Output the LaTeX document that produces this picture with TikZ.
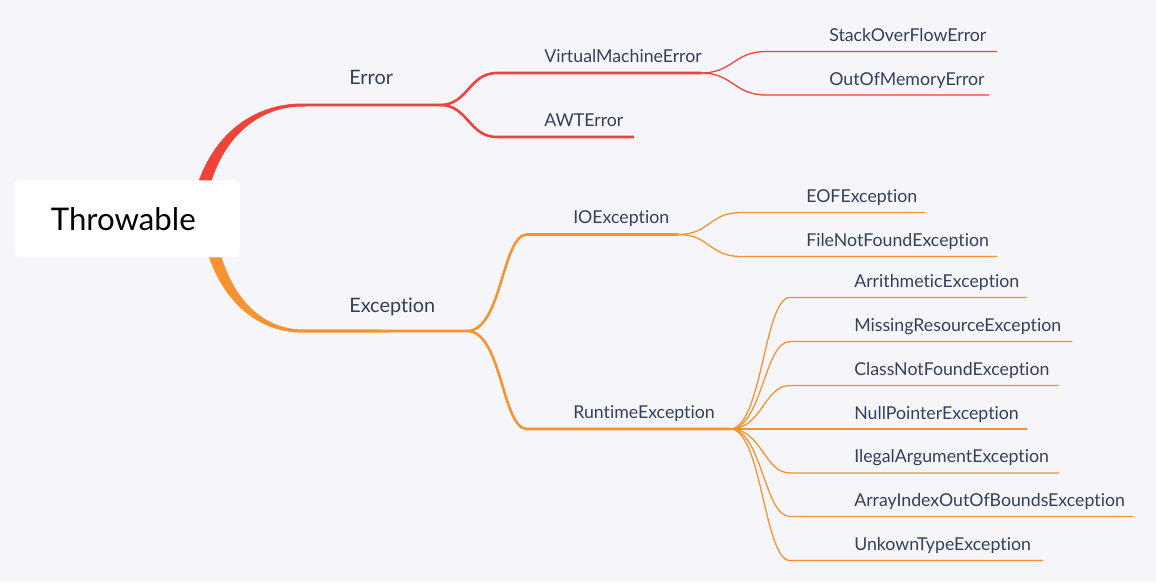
\documentclass[tikz,border=0pt]{standalone}
\usepackage{fontspec}
\setmainfont{Lato}[Ligatures={NoCommon,NoRare,NoContextual}]
\definecolor{bg}{HTML}{F5F5FA}
\definecolor{errc}{HTML}{EF4238}
\definecolor{excc}{HTML}{F7932E}
\definecolor{txt}{HTML}{34405A}
\begin{document}
\begin{tikzpicture}[x=0.75pt,y=-0.75pt,
  lbl/.style={anchor=base west,inner sep=0pt,text=txt,font=\fontsize{13.3}{15}\selectfont},
  lblbig/.style={anchor=base west,inner sep=0pt,text=txt,font=\fontsize{14.9}{17}\selectfont},
  errmid/.style={draw=errc,line width=1.9pt},
  errthin/.style={draw=errc,line width=0.95pt},
  excmid/.style={draw=excc,line width=1.9pt},
  excthin/.style={draw=excc,line width=0.95pt},
  rootbox/.style={fill=white,rounded corners=4.5pt,draw=none}]
\useasboundingbox (0,0) rectangle (1156,582);
\fill[bg] (0,0) rectangle (1156,582);
% coordinates
\coordinate (errA) at (440,105);
\coordinate (excA) at (467,331);
\coordinate (vmS) at (497,73);  \coordinate (vmE) at (701,73);
\coordinate (awS) at (497,137); \coordinate (awE) at (634,137);
\coordinate (soS) at (766,51.5); \coordinate (soE) at (997,51.5);
\coordinate (omS) at (766,95);   \coordinate (omE) at (989,95);
\coordinate (ioS) at (527,234.5); \coordinate (ioE) at (678,234.5);
\coordinate (eoS) at (741,212.5); \coordinate (eoE) at (925,212.5);
\coordinate (fnS) at (741,256.5); \coordinate (fnE) at (997,256.5);
\coordinate (rtS) at (527,429); \coordinate (rtE) at (730,429);
\coordinate (arS) at (790,297.5); \coordinate (arE) at (1027,297.5);
\coordinate (mrS) at (790,341.5); \coordinate (mrE) at (1072,341.5);
\coordinate (cnS) at (790,385.5); \coordinate (cnE) at (1059,385.5);
\coordinate (npS) at (790,429);   \coordinate (npE) at (1027,429);
\coordinate (iaS) at (790,473);   \coordinate (iaE) at (1059,473);
\coordinate (aiS) at (790,516.5); \coordinate (aiE) at (1133,516.5);
\coordinate (utS) at (790,560.5); \coordinate (utE) at (1043,560.5);
% root branches (tapered)
\fill[errc] (190,218) .. controls (200,140) and (250,103.5) .. (302,103.5) -- (440,103.6)
  -- (440,106.4) -- (302,106.5) .. controls (258,106.5) and (212,140) .. (204,218) -- cycle;
\fill[excc] (200,218) .. controls (210,296) and (255,332.6) .. (302,332.6) -- (467,332.4)
  -- (467,329.6) -- (302,329.4) .. controls (262,329.4) and (222,296) .. (214,218) -- cycle;
% Error subtree
\draw[errmid] (errA) .. controls +(28,0) and +(-28,0) .. (vmS) -- (vmE);
\draw[errmid] (errA) .. controls +(28,0) and +(-28,0) .. (awS) -- (awE);
\draw[errthin] (vmE) .. controls +(32,0) and +(-32,0) .. (soS) -- (soE);
\draw[errthin] (vmE) .. controls +(32,0) and +(-32,0) .. (omS) -- (omE);
% Exception subtree
\draw[excmid] (excA) .. controls +(35,0) and +(-25,0) .. (ioS) -- (ioE);
\draw[excmid] (excA) .. controls +(35,0) and +(-25,0) .. (rtS) -- (rtE);
\draw[excthin] (ioE) .. controls +(32,0) and +(-32,0) .. (eoS) -- (eoE);
\draw[excthin] (ioE) .. controls +(32,0) and +(-32,0) .. (fnS) -- (fnE);
\foreach \c in {ar,mr,cn,np,ia,ai,ut}{
  \draw[excthin] (rtE) .. controls +(32,0) and +(-26,0) .. (\c S) -- (\c E);
}
% root box
\node[rootbox,minimum width=169.5pt,minimum height=57.75pt,anchor=north west] (root) at (14,180) {};
\node[inner sep=0pt,text=black,font=\fontsize{23.4}{26}\selectfont] (rootlbl) at ([xshift=-3pt]root.center) {Throwable};
% labels
\node[lblbig] (err) at (349,84.5) {Error};
\node[lblbig] (exc) at (349,312.5) {Exception};
\node[lbl] (vm) at (544,62) {VirtualMachineError};
\node[lbl] (aw) at (544,126) {AWTError};
\node[lbl] (so) at (829,41) {StackOverFlowError};
\node[lbl] (om) at (829,85) {OutOfMemoryError};
\node[lbl] (io) at (573,223) {IOException};
\node[lbl] (eo) at (806,202) {EOFException};
\node[lbl] (fn) at (806,246) {FileNotFoundException};
\node[lbl] (rt) at (573,418) {RuntimeException};
\node[lbl] (ar) at (854,287) {ArrithmeticException};
\node[lbl] (mr) at (854,331) {MissingResourceException};
\node[lbl] (cn) at (854,375) {ClassNotFoundException};
\node[lbl] (np) at (854,419) {NullPointerException};
\node[lbl] (ia) at (854,462) {IlegalArgumentException};
\node[lbl] (ai) at (854,506) {ArrayIndexOutOfBoundsException};
\node[lbl] (ut) at (854,550) {UnkownTypeException};
\end{tikzpicture}
\end{document}
